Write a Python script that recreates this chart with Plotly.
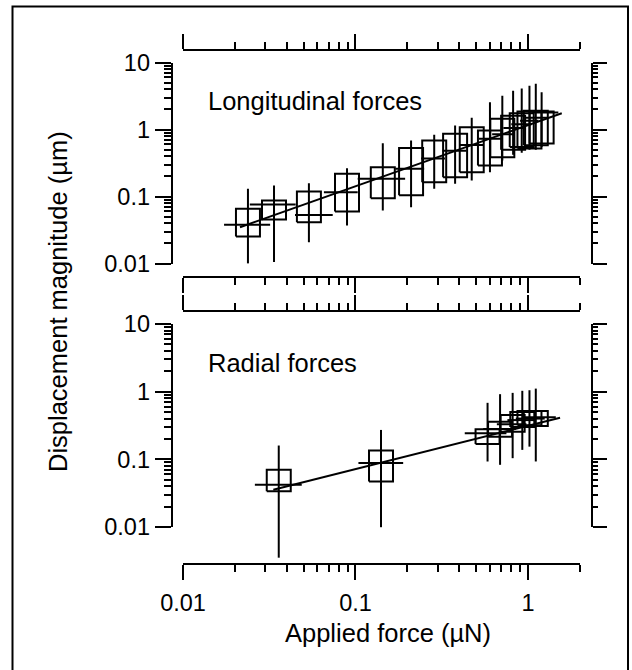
import math
import plotly.graph_objects as go

# ---------------- data ----------------
# Longitudinal forces (upper panel)
lon_x = [0.0238, 0.0337, 0.0537, 0.0893, 0.144, 0.210, 0.286, 0.378, 0.472, 0.602, 0.710, 0.82, 0.92, 1.02, 1.11, 1.20]
lon_y = [0.038, 0.076, 0.053, 0.116, 0.184, 0.26, 0.37, 0.48, 0.586, 0.73, 0.85, 1.05, 1.2, 1.35, 1.5, 1.8]
lon_box_lo = [0.0253, 0.0454, 0.0413, 0.0597, 0.0944, 0.104, 0.163, 0.194, 0.231, 0.29, 0.386, 0.50, 0.55, 0.52, 0.58, 0.62]
lon_box_hi = [0.0655, 0.087, 0.119, 0.218, 0.274, 0.53, 0.686, 0.863, 1.08, 0.966, 1.45, 1.6, 1.75, 1.85, 1.9, 1.85]
lon_err_lo = [0.0099, 0.0105, 0.0208, 0.0369, 0.0618, 0.069, 0.130, 0.155, 0.173, 0.231, 0.344, 0.42, 0.45, 0.5, 0.5, 0.55]
lon_err_hi = [0.130, 0.146, 0.158, 0.264, 0.625, 0.685, 0.834, 1.15, 1.50, 2.55, 3.2, 3.8, 4.1, 4.5, 4.8, 3.6]
lon_xerr_lo = [0.0173, 0.0244, 0.0446, 0.0656, 0.103, 0.17, 0.24, 0.32, 0.40, 0.52, 0.62, 0.72, 0.80, 0.90, 0.97, 1.05]
lon_xerr_hi = [0.032, 0.045, 0.0738, 0.103, 0.194, 0.25, 0.33, 0.44, 0.55, 0.70, 0.82, 0.95, 1.05, 1.15, 1.30, 1.5]
lon_fit_x = [0.0214, 1.57]
lon_fit_y = [0.0348, 1.75]

# Radial forces (lower panel)
rad_x = [0.0359, 0.1406, 0.583, 0.689, 0.815, 0.927, 1.02, 1.11]
rad_y = [0.0422, 0.0879, 0.243, 0.28, 0.33, 0.38, 0.40, 0.42]
rad_box_lo = [0.0337, 0.0472, 0.169, 0.216, 0.256, 0.30, 0.32, 0.31]
rad_box_hi = [0.0702, 0.135, 0.278, 0.36, 0.451, 0.50, 0.52, 0.52]
rad_err_lo = [0.00352, 0.00993, 0.0929, 0.083, 0.104, 0.138, 0.154, 0.093]
rad_err_hi = [0.160, 0.272, 0.684, 0.918, 0.96, 1.03, 1.05, 1.11]
rad_xerr_lo = [0.0261, 0.104, 0.43, 0.55, 0.66, 0.76, 0.85, 0.92]
rad_xerr_hi = [0.0488, 0.189, 0.75, 0.85, 0.98, 1.1, 1.25, 1.45]
rad_fit_x = [0.0334, 1.535]
rad_fit_y = [0.0356, 0.412]

# tick values / labels
x_major = [0.01, 0.1, 1]
x_major_text = ["0.01", "0.1", "1"]
x_minor = [m * d for d in (0.01, 0.1) for m in range(2, 10)] + [2]
y_major = [0.01, 0.1, 1, 10]
y_major_text = ["0.01", "0.1", "1", "10"]
y_minor = [m * d for d in (0.01, 0.1, 1) for m in range(2, 10)]

panel_labels = ["Longitudinal forces", "Radial forces"]
x_title = "Applied force (\u00b5N)"
y_title = "Displacement magnitude (\u00b5m)"

# ---------------- layout helpers ----------------
W, H = 632, 670
FONT = "Liberation Sans, Arial, Helvetica, sans-serif"


def px(v):
    return v / W


def py(v):
    return 1 - v / H


BOX_K = 10 ** (12 / 172.5)  # half-width of the boxes (12 px on a 172.5 px decade)
LW = 2
DEC_LOW = 203 / 3  # px per decade, lower panel
LOW_BOTTOM = -2 - (566 - 527) / DEC_LOW


def box_path(xs, lo, hi):
    bx, by = [], []
    for x, l, h in zip(xs, lo, hi):
        x0, x1 = x / BOX_K, x * BOX_K
        bx += [x0, x1, x1, x0, x0, None]
        by += [l, l, h, h, l, None]
    return bx, by


def err_trace(xs, ys, elo, ehi, xlo, xhi, xa, ya):
    return go.Scatter(
        x=xs, y=ys, xaxis=xa, yaxis=ya, mode="markers",
        marker=dict(size=2, color="rgba(0,0,0,0)"),
        error_y=dict(type="data", symmetric=False,
                     array=[h - y for h, y in zip(ehi, ys)],
                     arrayminus=[y - l for l, y in zip(elo, ys)],
                     width=0, thickness=LW, color="black"),
        error_x=dict(type="data", symmetric=False,
                     array=[h - x for h, x in zip(xhi, xs)],
                     arrayminus=[x - l for l, x in zip(xlo, xs)],
                     width=0, thickness=LW, color="black"),
        cliponaxis=False, hoverinfo="skip", showlegend=False)


def dummy(xa, ya):
    return go.Scatter(x=[None], y=[None], xaxis=xa, yaxis=ya, mode="markers", hoverinfo="skip")


fig = go.Figure()

# upper panel
bx, by = box_path(lon_x, lon_box_lo, lon_box_hi)
fig.add_trace(go.Scatter(x=bx, y=by, xaxis="x", yaxis="y", mode="lines",
                         line=dict(color="black", width=LW), hoverinfo="skip"))
fig.add_trace(err_trace(lon_x, lon_y, lon_err_lo, lon_err_hi, lon_xerr_lo, lon_xerr_hi, "x", "y"))
fig.add_trace(go.Scatter(x=lon_fit_x, y=lon_fit_y, xaxis="x", yaxis="y", mode="lines",
                         line=dict(color="black", width=LW), hoverinfo="skip"))

# lower panel
bx, by = box_path(rad_x, rad_box_lo, rad_box_hi)
fig.add_trace(go.Scatter(x=bx, y=by, xaxis="x2", yaxis="y2", mode="lines",
                         line=dict(color="black", width=LW), hoverinfo="skip"))
fig.add_trace(err_trace(rad_x, rad_y, rad_err_lo, rad_err_hi, rad_xerr_lo, rad_xerr_hi, "x2", "y2"))
fig.add_trace(go.Scatter(x=rad_fit_x, y=rad_fit_y, xaxis="x2", yaxis="y2", mode="lines",
                         line=dict(color="black", width=LW), hoverinfo="skip"))

# empty traces so that the frame axes get their subplots
for xa, ya in [("x3", "y"), ("x", "y3"), ("x4", "y2"), ("x2", "y5"), ("x2", "y6")]:
    fig.add_trace(dummy(xa, ya))

TICKFONT = dict(family=FONT, size=23.5, color="black")
TEXTFONT = dict(family=FONT, size=25.5, color="black")

xbase = dict(type="log", range=[-2, math.log10(2)], domain=[px(183), px(579.9)],
             showgrid=False, zeroline=False, showline=True, linecolor="black", linewidth=LW,
             ticks="outside", tickvals=x_major, ticktext=x_major_text, ticklen=15,
             tickwidth=LW, tickcolor="black", tickfont=TICKFONT, ticklabelstandoff=3,
             minor=dict(tickvals=x_minor, ticklen=7, tickwidth=LW, tickcolor="black",
                        ticks="outside", showgrid=False),
             anchor="free", fixedrange=True, automargin=False)

ybase = dict(type="log", range=[-2, 1], showgrid=False, zeroline=False, showline=True,
             linecolor="black", linewidth=LW, ticks="outside", tickvals=y_major,
             ticktext=y_major_text, tickwidth=LW, tickcolor="black", tickfont=TICKFONT,
             anchor="free", fixedrange=True, automargin=False)

yleft_minor = dict(tickvals=y_minor, ticklen=7, tickwidth=LW, tickcolor="black", ticks="outside")
yright_minor = dict(tickvals=y_minor, ticklen=5, tickwidth=LW, tickcolor="black", ticks="outside")
UP_DOM = [py(263.5), py(62.5)]
LOW_DOM = [py(527), py(324)]

fig.update_layout(
    template="none",
    width=W, height=H, margin=dict(l=0, r=0, t=0, b=0, pad=0, autoexpand=False),
    paper_bgcolor="white", plot_bgcolor="rgba(0,0,0,0)", showlegend=False,
    xaxis={**xbase, "side": "bottom", "position": py(277), "showticklabels": False},
    xaxis3={**xbase, "side": "top", "position": py(50), "showticklabels": False, "overlaying": "x"},
    xaxis2={**xbase, "side": "bottom", "position": py(564), "showticklabels": True},
    xaxis4={**xbase, "side": "top", "position": py(311), "showticklabels": False, "overlaying": "x2"},
    yaxis={**ybase, "domain": UP_DOM, "side": "left", "position": px(171.7),
           "ticklen": 16, "minor": yleft_minor},
    yaxis3={**ybase, "domain": UP_DOM, "side": "right", "position": px(592.3),
            "overlaying": "y", "showticklabels": False, "ticklen": 14, "minor": yright_minor},
    # lower data axis (extends below 0.01 so long error bars are not cut), hidden
    yaxis2=dict(type="log", range=[LOW_BOTTOM, 1], domain=[py(566), py(324)], visible=False,
                showgrid=False, zeroline=False, anchor="free", position=px(171.7),
                fixedrange=True, automargin=False),
    yaxis5={**ybase, "domain": LOW_DOM, "side": "left", "position": px(171.7),
            "ticklen": 16, "minor": yleft_minor},
    yaxis6={**ybase, "domain": LOW_DOM, "side": "right", "position": px(592.3),
            "overlaying": "y5", "showticklabels": False, "ticklen": 14, "minor": yright_minor},
    shapes=[dict(type="rect", xref="paper", yref="paper", x0=px(12.5), x1=px(628), y0=-0.05, y1=py(6.5),
                 line=dict(color="black", width=LW), layer="below")],
    annotations=[
        dict(text=panel_labels[0], x=px(206), y=py(101), xref="paper", yref="paper",
             xanchor="left", yanchor="middle", showarrow=False, font=TEXTFONT),
        dict(text=panel_labels[1], x=px(206), y=py(363), xref="paper", yref="paper",
             xanchor="left", yanchor="middle", showarrow=False, font=TEXTFONT),
        dict(text=x_title, x=px(387.5), y=py(633), xref="paper", yref="paper",
             xanchor="center", yanchor="middle", showarrow=False, font=TEXTFONT),
        dict(text=y_title, x=px(58), y=py(302), xref="paper", yref="paper", textangle=-90,
             xanchor="center", yanchor="middle", showarrow=False, font=TEXTFONT),
    ],
)

fig.write_html("out.html", config={"displayModeBar": False},
               post_script="document.body.style.margin='0';")
